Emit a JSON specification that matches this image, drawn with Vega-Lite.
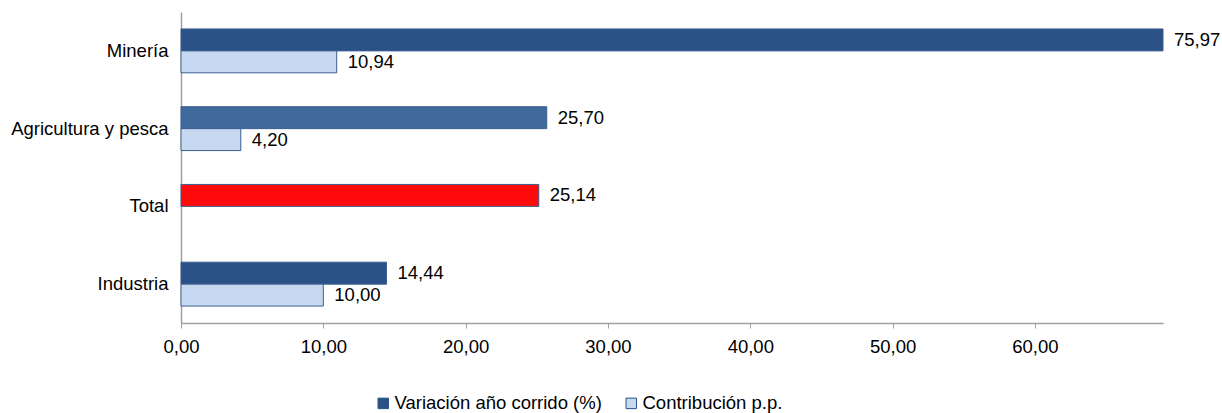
{
  "$schema": "https://vega.github.io/schema/vega-lite/v6.json",
  "width": 982,
  "height": 311,
  "autosize": {"type": "none"},
  "padding": {"left": 181, "top": 12, "right": 59, "bottom": 90},
  "background": "white",
  "data": {
    "values": [
      {"categoria": "Minería", "serie": "Variación año corrido (%)", "valor": 75.97},
      {"categoria": "Minería", "serie": "Contribución p.p.", "valor": 10.94},
      {"categoria": "Agricultura y pesca", "serie": "Variación año corrido (%)", "valor": 25.70},
      {"categoria": "Agricultura y pesca", "serie": "Contribución p.p.", "valor": 4.20},
      {"categoria": "Total", "serie": "Variación año corrido (%)", "valor": 25.14},
      {"categoria": "Industria", "serie": "Variación año corrido (%)", "valor": 14.44},
      {"categoria": "Industria", "serie": "Contribución p.p.", "valor": 10.00}
    ]
  },
  "encoding": {
    "y": {
      "field": "categoria",
      "type": "nominal",
      "sort": ["Minería", "Agricultura y pesca", "Total", "Industria"],
      "scale": {"paddingInner": 0.436, "paddingOuter": 0.218},
      "axis": {
        "title": null,
        "ticks": false,
        "domainColor": "#a0a0a0",
        "domainWidth": 1.5,
        "labelPadding": 13,
        "labelFontSize": 18.5,
        "labelColor": "#000000",
        "labelFont": "Liberation Sans",
        "labelLimit": 400
      }
    },
    "yOffset": {
      "field": "serie",
      "type": "nominal",
      "sort": ["Variación año corrido (%)", "Contribución p.p."]
    },
    "x": {
      "field": "valor",
      "type": "quantitative",
      "scale": {"domain": [0, 69], "clamp": true, "nice": false, "zero": true},
      "axis": {
        "title": null,
        "values": [0, 10, 20, 30, 40, 50, 60],
        "format": ".2f",
        "grid": false,
        "domainColor": "#a0a0a0",
        "domainWidth": 1.5,
        "tickColor": "#a0a0a0",
        "tickSize": 5,
        "labelPadding": 9,
        "labelFlush": false,
        "labelFontSize": 18.5,
        "labelColor": "#000000",
        "labelFont": "Liberation Sans"
      }
    }
  },
  "layer": [
    {
      "mark": {"type": "bar", "stroke": "#3a5f90", "strokeWidth": 1},
      "encoding": {
        "fill": {
          "condition": [
            {"test": "datum.categoria === 'Total'", "value": "#ff0a0a"},
            {"test": "datum.categoria === 'Agricultura y pesca' && datum.serie === 'Variación año corrido (%)'", "value": "#416a9c"}
          ],
          "field": "serie",
          "type": "nominal",
          "sort": ["Variación año corrido (%)", "Contribución p.p."],
          "scale": {
            "domain": ["Variación año corrido (%)", "Contribución p.p."],
            "range": ["#2b5287", "#c6d9f0"]
          },
          "legend": {
            "title": null,
            "orient": "none",
            "direction": "horizontal",
            "legendX": 193,
            "legendY": 382,
            "symbolType": "square",
            "symbolSize": 110,
            "symbolStrokeColor": "#2b5287",
            "symbolStrokeWidth": 1,
            "labelFontSize": 18.5,
            "labelFont": "Liberation Sans",
            "labelColor": "#000000",
            "labelOffset": 2,
            "labelLimit": 500,
            "columnPadding": 20
          }
        }
      }
    },
    {
      "mark": {"type": "text", "align": "left", "baseline": "middle", "dx": 11, "fontSize": 18.5, "font": "Liberation Sans", "color": "#000000"},
      "encoding": {
        "text": {"field": "valor", "type": "quantitative", "format": ".2f"}
      }
    }
  ],
  "config": {
    "view": {"stroke": null},
    "locale": {
      "number": {"decimal": ",", "thousands": ".", "grouping": [3], "currency": ["$", ""]}
    }
  }
}
